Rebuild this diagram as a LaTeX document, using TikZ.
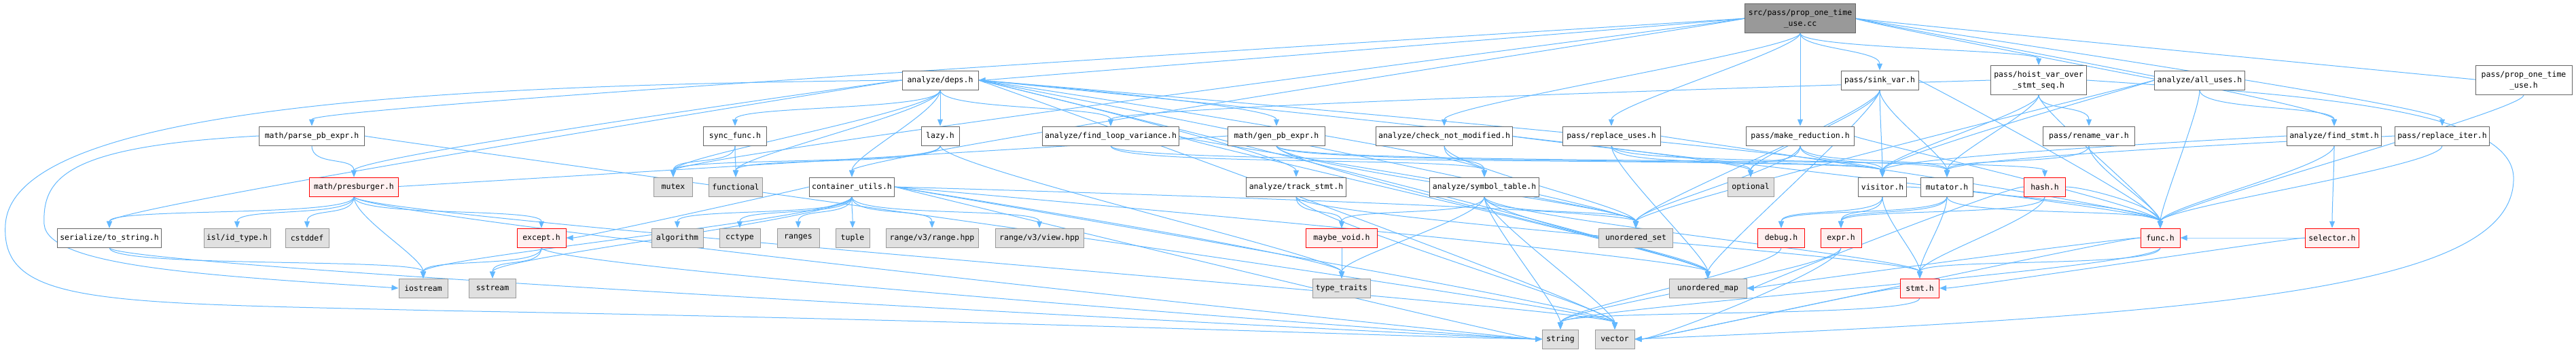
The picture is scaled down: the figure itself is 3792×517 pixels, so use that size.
\documentclass[tikz,border=0pt]{standalone}
\usepackage{fontspec}
\usepackage{tikz}
\usetikzlibrary{arrows.meta}
\newfontfamily\dgfont{DejaVu Sans Mono}
\definecolor{dgedge}{HTML}{63B8FF}
\definecolor{dgborder}{HTML}{666666}
\definecolor{sysfill}{HTML}{E0E0E0}
\definecolor{sysborder}{HTML}{999999}
\definecolor{badfill}{HTML}{FFF0F0}
\definecolor{rootfill}{HTML}{999999}
\pgfdeclarelayer{bg}
\pgfsetlayers{bg,main}
\tikzset{
    base/.style={draw=dgborder, fill=white, rectangle, line width=1pt, minimum height=28pt, inner xsep=4pt, inner ysep=0pt, align=center, font=\dgfont\fontsize{11.5}{16}\selectfont},
    sys/.style={base, draw=sysborder, fill=sysfill},
    bad/.style={base, draw=red, fill=badfill},
    root/.style={base, fill=rootfill},
    arrow/.style={draw=dgedge, line width=1pt, -{Triangle[length=10pt, width=8pt]}},
    dep/.style={to path={.. controls +(0,45) and +(0,-45) .. (\tikztotarget)}},
    depw/.style={to path={.. controls +(0,45) and +(-60,0) .. (\tikztotarget)}},
    depe/.style={to path={.. controls +(0,45) and +(60,0) .. (\tikztotarget)}},
    fromw/.style={to path={.. controls +(-60,0) and +(0,-45) .. (\tikztotarget)}},
    frome/.style={to path={.. controls +(60,0) and +(0,-45) .. (\tikztotarget)}},
    weste/.style={to path={.. controls +(-60,0) and +(60,0) .. (\tikztotarget)}},
    eastw/.style={to path={.. controls +(60,0) and +(-60,0) .. (\tikztotarget)}}
}

\begin{document}
\begin{tikzpicture}[x=1pt, y=-1pt]
\useasboundingbox (0,0) rectangle (3792,517);
\node[root, minimum width=163, minimum height=43] (tc) at (2650,27) {src/pass/prop\_one\_time\\\_use.cc};
\node[base, minimum width=112] (deps) at (1384,118) {analyze/deps.h};
\node[base, minimum width=114] (sink) at (2767,118) {pass/sink\_var.h};
\node[base, minimum width=141, minimum height=43] (hoist) at (3001,118) {pass/hoist\_var\_over\\\_stmt\_seq.h};
\node[base, minimum width=131] (allu) at (3238,118) {analyze/all\_uses.h};
\node[base, minimum width=142, minimum height=43] (proph) at (3715,118) {pass/prop\_one\_time\\\_use.h};
\node[base, minimum width=155] (parse) at (459,200) {math/parse\_pb\_expr.h};
\node[base, minimum width=93] (sync) at (1082,200) {sync\_func.h};
\node[base, minimum width=56] (lazy) at (1384,200) {lazy.h};
\node[base, minimum width=194] (floop) at (1635,200) {analyze/find\_loop\_variance.h};
\node[base, minimum width=143] (genpb) at (1879,200) {math/gen\_pb\_expr.h};
\node[base, minimum width=200] (chk) at (2126,200) {analyze/check\_not\_modified.h};
\node[base, minimum width=144] (repu) at (2372,200) {pass/replace\_uses.h};
\node[base, minimum width=159] (mred) at (2650,200) {pass/make\_reduction.h};
\node[base, minimum width=135] (rename) at (3075,200) {pass/rename\_var.h};
\node[base, minimum width=135] (fstmt) at (3436,200) {analyze/find\_stmt.h};
\node[base, minimum width=133] (riter) at (3595,200) {pass/replace\_iter.h};
\node[bad, minimum width=131] (presb) at (521,275) {math/presburger.h};
\node[sys, minimum width=57] (mutex) at (991,275) {mutex};
\node[sys, minimum width=79] (functional) at (1083,275) {functional};
\node[base, minimum width=119] (cutil) at (1254,275) {container\_utils.h};
\node[base, minimum width=144] (track) at (1908,275) {analyze/track\_stmt.h};
\node[base, minimum width=161] (symtab) at (2185,275) {analyze/symbol\_table.h};
\node[sys, minimum width=68] (optional) at (2577,275) {optional};
\node[base, minimum width=67] (visitor) at (2771,275) {visitor.h};
\node[base, minimum width=77] (mutator) at (2866,275) {mutator.h};
\node[bad, minimum width=61] (hash) at (3010,275) {hash.h};
\node[base, minimum width=136] (tostr) at (161,350) {serialize/to\_string.h};
\node[sys, minimum width=92] (idtype) at (349,350) {isl/id\_type.h};
\node[sys, minimum width=64] (cstddef) at (452,350) {cstddef};
\node[bad, minimum width=72] (except) at (797,350) {except.h};
\node[sys, minimum width=76] (algorithm) at (997,350) {algorithm};
\node[sys, minimum width=60] (cctype) at (1089,350) {cctype};
\node[sys, minimum width=62] (ranges) at (1175,350) {ranges};
\node[sys, minimum width=50] (tuple) at (1255,350) {tuple};
\node[sys, minimum width=136] (rangehpp) at (1372,350) {range/v3/range.hpp};
\node[sys, minimum width=130] (viewhpp) at (1530,350) {range/v3/view.hpp};
\node[bad, minimum width=105] (maybevoid) at (1975,350) {maybe\_void.h};
\node[sys, minimum width=109] (uset) at (2408,350) {unordered\_set};
\node[bad, minimum width=69] (debug) at (2622,350) {debug.h};
\node[bad, minimum width=60] (expr) at (2710,350) {expr.h};
\node[bad, minimum width=58] (func) at (3180,350) {func.h};
\node[bad, minimum width=79] (selector) at (3433,350) {selector.h};
\node[sys, minimum width=72] (iostream) at (623,424) {iostream};
\node[sys, minimum width=69] (sstream) at (725,424) {sstream};
\node[sys, minimum width=84] (typetraits) at (1975,424) {type\_traits};
\node[sys, minimum width=114] (umap) at (2514,424) {unordered\_map};
\node[bad, minimum width=57] (stmt) at (2826,424) {stmt.h};
\node[sys, minimum width=53] (string) at (2297,499) {string};
\node[sys, minimum width=58] (vector) at (2377,499) {vector};
\begin{pgfonlayer}{bg}
\draw[arrow] (tc) to[weste] (deps);
\draw[arrow] (tc) to[dep] (sink);
\draw[arrow] (tc) to[dep] (hoist);
\draw[arrow] (tc) to[eastw] (allu);
\draw[arrow] (tc) to[eastw] (proph);
\draw[arrow] (tc) to[fromw] (parse);
\draw[arrow] (tc) to[dep] (mred);
\draw[arrow] (tc) to[dep] (chk);
\draw[arrow] (tc) to[dep] (repu);
\draw[arrow] (tc) to[frome] (fstmt);
\draw[arrow] (tc) to[frome] (riter);
\draw[arrow] (tc) to[fromw] (mutex);
\draw[arrow] (tc) to[fromw] (cutil);
\draw[arrow] (deps) to[dep] (lazy);
\draw[arrow] (deps) to[dep] (floop);
\draw[arrow] (deps) to[frome] (genpb);
\draw[arrow] (deps) to[dep] (sync);
\draw[arrow] (deps) to[fromw] (presb);
\draw[arrow] (deps) to[dep] (mutex);
\draw[arrow] (deps) to[dep] (functional);
\draw[arrow] (deps) to[dep] (cutil);
\draw[arrow] (deps) to[frome] (track);
\draw[arrow] (deps) to[frome] (symtab);
\draw[arrow] (deps) to[frome] (visitor);
\draw[arrow] (deps) to[frome] (optional);
\draw[arrow] (deps) to[frome] (uset);
\draw[arrow] (deps) to[frome] (umap);
\draw[arrow] (deps) to[fromw] (tostr);
\draw[arrow] (deps.west) .. controls (700,125) and (20,150) .. (8,330) .. controls (0,450) and (150,445) .. (640,457) .. controls (1500,472) and (2100,497) .. (string.west);
\draw[arrow] (deps) to[frome] (vector);
\draw[arrow] (sync) to[dep] (mutex);
\draw[arrow] (sync) to[dep] (functional);
\draw[arrow] (lazy) to[dep] (mutex);
\draw[arrow] (lazy) to[dep] (functional);
\draw[arrow] (lazy) to[dep] (typetraits);
\draw[arrow] (floop) to[dep] (symtab);
\draw[arrow] (floop) to[dep] (visitor);
\draw[arrow] (floop) to[frome] (uset);
\draw[arrow] (floop) to[frome] (umap);
\draw[arrow] (genpb) to[weste] (presb);
\draw[arrow] (genpb) to[dep] (visitor);
\draw[arrow] (genpb) to[dep] (hash);
\draw[arrow] (genpb) to[dep] (umap);
\draw[arrow] (genpb) to[dep] (uset);
\draw[arrow] (parse) to[dep] (presb);
\draw[arrow] (parse.west) .. controls (100,215) and (62,260) .. (65,330) .. controls (70,392) and (300,405) .. (iostream.west);
\draw[arrow] (parse) to[frome] (vector);
\draw[arrow] (chk) to[dep] (symtab);
\draw[arrow] (chk) to[frome] (func);
\draw[arrow] (chk) to[dep] (uset);
\draw[arrow] (repu) to[dep] (mutator);
\draw[arrow] (repu) to[dep] (umap);
\draw[arrow] (repu) to[frome] (func);
\draw[arrow] (repu) to[dep] (optional);
\draw[arrow] (mred) to[dep] (optional);
\draw[arrow] (mred) to[dep] (mutator);
\draw[arrow] (mred) to[dep] (visitor);
\draw[arrow] (mred) to[frome] (func);
\draw[arrow] (mred) to[dep] (uset);
\draw[arrow] (sink) to[dep] (visitor);
\draw[arrow] (sink) to[dep] (mutator);
\draw[arrow] (sink) to[dep] (optional);
\draw[arrow] (sink) to[dep] (uset);
\draw[arrow] (sink) to[dep] (umap);
\draw[arrow] (sink) to[frome] (func);
\draw[arrow] (hoist) to[dep] (rename);
\draw[arrow] (hoist) to[dep] (mutator);
\draw[arrow] (hoist) to[dep] (visitor);
\draw[arrow] (hoist) to[fromw] (floop);
\draw[arrow] (hoist) to[dep] (func);
\draw[arrow] (hoist.east) .. controls (3400,140) and (3695,160) .. (3700,260) .. controls (3705,420) and (3300,462) .. (vector.east);
\draw[arrow] (rename) to[dep] (mutator);
\draw[arrow] (rename) to[dep] (func);
\draw[arrow] (allu) to[dep] (fstmt);
\draw[arrow] (allu) to[fromw] (visitor);
\draw[arrow] (allu) to[dep] (func);
\draw[arrow] (allu) to[fromw] (uset);
\draw[arrow] (fstmt) to[dep] (selector);
\draw[arrow] (fstmt) to[dep] (func);
\draw[arrow] (fstmt) to[fromw] (visitor);
\draw[arrow] (riter) to[dep] (func);
\draw[arrow] (riter) to[fromw] (mutator);
\draw[arrow] (proph) to[dep] (func);
\draw[arrow] (presb) to[dep] (tostr);
\draw[arrow] (presb) to[dep] (idtype);
\draw[arrow] (presb) to[dep] (cstddef);
\draw[arrow] (presb) to[dep] (iostream);
\draw[arrow] (presb) to[dep] (except);
\draw[arrow] (presb) to[depw] (string);
\draw[arrow] (presb) to[dep] (vector);
\draw[arrow] (tostr) to[dep] (iostream);
\draw[arrow] (tostr) to[depw] (string);
\draw[arrow] (except) to[dep] (sstream);
\draw[arrow] (except) to[dep] (iostream);
\draw[arrow] (except) to[depw] (string);
\draw[arrow] (cutil) to[dep] (algorithm);
\draw[arrow] (cutil) to[dep] (cctype);
\draw[arrow] (cutil) to[dep] (ranges);
\draw[arrow] (cutil) to[dep] (tuple);
\draw[arrow] (cutil) to[dep] (rangehpp);
\draw[arrow] (cutil) to[dep] (viewhpp);
\draw[arrow] (cutil) to[weste] (except);
\draw[arrow] (cutil) to[dep] (iostream);
\draw[arrow] (cutil) to[dep] (sstream);
\draw[arrow] (cutil) to[frome] (typetraits);
\draw[arrow] (cutil) to[frome] (uset);
\draw[arrow] (cutil) to[frome] (umap);
\draw[arrow] (cutil) to[eastw] (string);
\draw[arrow] (cutil) to[frome] (vector);
\draw[arrow] (track) to[dep] (maybevoid);
\draw[arrow] (track) to[dep] (stmt);
\draw[arrow] (track) to[dep] (vector);
\draw[arrow] (symtab) to[dep] (maybevoid);
\draw[arrow] (symtab) to[dep] (typetraits);
\draw[arrow] (symtab) to[dep] (uset);
\draw[arrow] (symtab) to[dep] (umap);
\draw[arrow] (symtab) to[dep] (stmt);
\draw[arrow] (symtab) to[dep] (string);
\draw[arrow] (symtab) to[dep] (vector);
\draw[arrow] (maybevoid) to[dep] (typetraits);
\draw[arrow] (visitor) to[dep] (expr);
\draw[arrow] (visitor) to[dep] (stmt);
\draw[arrow] (visitor) to[frome] (func);
\draw[arrow] (visitor) to[dep] (debug);
\draw[arrow] (mutator) to[dep] (expr);
\draw[arrow] (mutator) to[dep] (stmt);
\draw[arrow] (mutator) to[dep] (func);
\draw[arrow] (mutator) to[dep] (debug);
\draw[arrow] (hash) to[dep] (stmt);
\draw[arrow] (hash) to[dep] (expr);
\draw[arrow] (hash) to[frome] (func);
\draw[arrow] (hash) to[weste] (umap);
\draw[arrow] (debug) to[dep] (string);
\draw[arrow] (expr) to[dep] (string);
\draw[arrow] (expr) to[depe] (vector);
\draw[arrow] (func) to[dep] (stmt);
\draw[arrow] (func) to[weste] (umap);
\draw[arrow] (func) to[dep] (string);
\draw[arrow] (func) to[weste] (vector);
\draw[arrow] (selector) to[weste] (func);
\draw[arrow] (selector) to[weste] (stmt);
\draw[arrow] (stmt) to[dep] (string);
\draw[arrow] (stmt) to[weste] (vector);
\end{pgfonlayer}
\end{tikzpicture}
\end{document}
